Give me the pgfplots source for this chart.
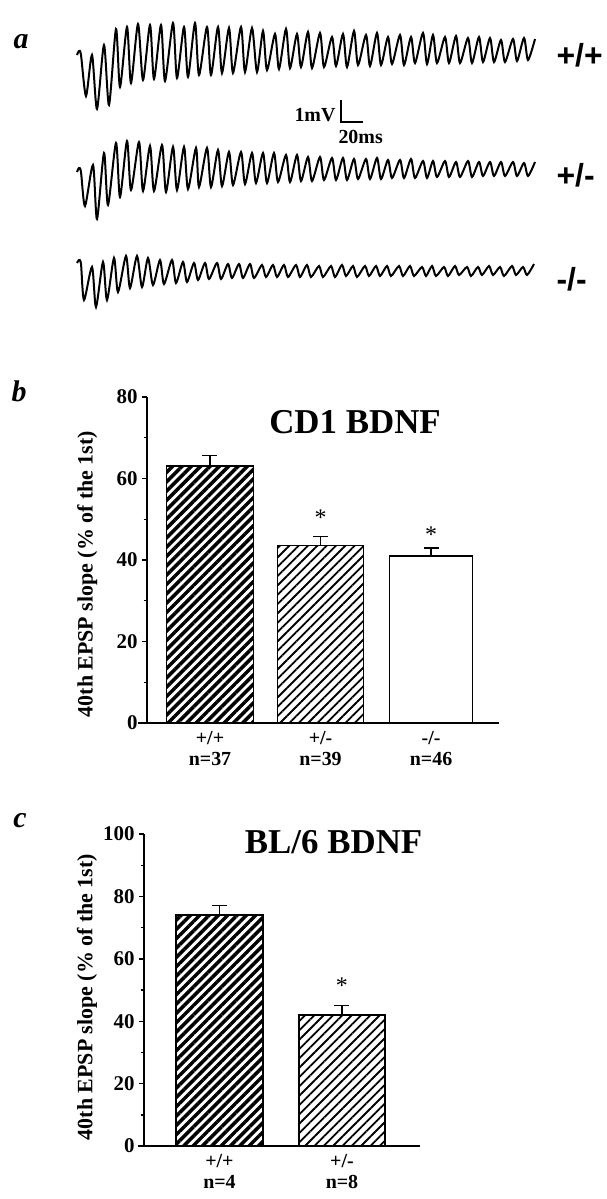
\documentclass[border=0pt]{standalone}
\usepackage{fontspec}
\setmainfont{Liberation Serif}
\newfontfamily\sansf{Liberation Sans}
\usepackage{pgfplots}
\pgfplotsset{compat=1.18}
\usetikzlibrary{patterns.meta}

\pgfplotsset{
  barpanel/.style={
    scale only axis, anchor=south west, clip=false,
    axis y line=left, axis x line*=bottom,
    axis line style={-, line width=1.6bp},
    tick align=outside,
    major tick length=5bp, minor tick length=3.5bp,
    every tick/.style={black, line width=1.4bp},
    major x tick style={draw=none},
    minor y tick num=1,
    xtick={0,1,2},
    /pgf/number format/assume math mode=true,
    yticklabel style={font=\fontsize{21}{21}\selectfont\bfseries, xshift=-1bp},
    xticklabel style={align=center, font=\fontsize{20}{21}\selectfont\bfseries},
  },
  thickhatch/.style={draw=black, line width=1.5bp, pattern={Lines[angle=45,distance=6.6bp,line width=3.5bp]}, pattern color=black},
  thinhatch/.style={draw=black, line width=1.5bp, pattern={Lines[angle=45,distance=6.6bp,line width=1.8bp]}, pattern color=black},
  errs/.style={error bars/.cd, y dir=plus, y explicit,
    error bar style={line width=1.5bp, black},
    error mark options={rotate=90, line width=1.5bp, black, mark size=7.5bp}},
}

\begin{document}
\begin{tikzpicture}
\path[use as bounding box] (0,0) rectangle (607bp,-1199bp);

% ---------- panel a : traces (canvas in pixel units) ----------
\begin{axis}[at={(0,0)}, anchor=north west, scale only axis,
  width=607bp, height=1199bp, xmin=0, xmax=607, ymin=0, ymax=1199,
  y dir=reverse, hide axis, clip=false]
\addplot[black, line width=2bp, smooth, tension=0.45] coordinates {
(77,55) (79,51) (81,55) (86,96) (92,55) (97,109) (104,45) (109,105) (116,29) (120,87) (127,27) (131,83) (138,24) (143,80) (150,25) (154,79) (161,25) (165,81) (173,23) (177,78) (184,27) (188,77) (195,23) (199,75) (207,27) (211,75) (218,27) (222,73) (229,28) (233,73) (241,27) (245,72) (252,28) (257,72) (263,31) (267,70) (275,34) (279,69) (286,29) (290,68) (297,34) (301,67) (308,32) (312,68) (320,33) (324,67) (332,37) (336,66) (343,34) (347,67) (354,31) (358,65) (366,35) (370,66) (377,33) (381,65) (388,37) (392,64) (400,35) (404,65) (411,37) (415,63) (423,33) (427,64) (433,35) (437,63) (445,37) (449,63) (456,36) (460,63) (468,38) (472,63) (479,37) (483,62) (490,38) (494,62) (501,40) (505,62) (513,39) (517,61) (524,38) (528,60) (535,39)};
\addplot[black, line width=2bp, smooth, tension=0.45] coordinates {
(77,172) (79,168) (81,172) (85,206) (93,165) (97,219) (104,153) (108,205) (116,143) (120,197) (127,141) (131,190) (139,142) (143,191) (150,146) (154,191) (162,145) (166,192) (173,147) (177,190) (184,147) (188,189) (196,148) (199,187) (207,148) (211,187) (218,150) (222,186) (229,152) (233,185) (241,152) (245,184) (252,153) (256,183) (263,153) (267,183) (274,153) (278,182) (286,155) (290,182) (297,155) (301,181) (308,157) (312,181) (320,157) (324,180) (332,158) (336,180) (343,158) (347,180) (354,159) (358,179) (366,159) (370,179) (377,158) (381,179) (388,160) (392,178) (400,160) (404,178) (411,159) (415,178) (423,161) (427,178) (433,161) (437,177) (445,161) (449,177) (456,162) (460,177) (468,161) (472,177) (479,162) (483,176) (490,162) (494,176) (501,162) (505,176) (513,162) (517,176) (524,163) (528,176) (535,162)};
\addplot[black, line width=2bp, smooth, tension=0.45] coordinates {
(77,263) (79,260) (81,264) (84,300) (92,267) (96,307) (103,262) (107,300) (114,258) (118,292) (126,256) (130,288) (137,256) (142,287) (148,258) (153,285) (160,260) (164,284) (172,260) (176,283) (183,262) (187,282) (194,263) (198,280) (205,263) (209,279) (217,263) (221,279) (228,264) (232,278) (239,264) (243,278) (250,264) (254,278) (262,265) (266,277) (273,265) (277,277) (284,265) (288,277) (296,265) (300,277) (307,265) (311,277) (319,266) (323,277) (331,266) (335,277) (342,265) (346,276) (353,266) (357,277) (365,266) (369,276) (376,266) (380,276) (387,266) (391,276) (399,266) (403,276) (410,266) (414,276) (422,267) (426,276) (432,266) (436,276) (444,267) (448,276) (455,266) (459,275) (467,267) (471,276) (478,267) (482,275) (489,266) (493,275) (500,267) (504,276) (512,266) (516,275) (523,267) (527,275) (534,264)};
% scale bar: 1 mV / 20 ms
\addplot[black, line width=1.5bp] coordinates {(341,100) (341,122) (363,122)};
\node[anchor=base east, font=\fontsize{20}{20}\selectfont\bfseries] at (axis cs:339,121) {1mV};
\node[anchor=base west, font=\fontsize{20}{20}\selectfont\bfseries] at (axis cs:335,143) {20ms};
% trace labels
\node[anchor=west, font=\sansf\bfseries\fontsize{32}{32}\selectfont] at (axis cs:553,55) {+/+};
\node[anchor=west, font=\sansf\bfseries\fontsize{32}{32}\selectfont] at (axis cs:553,175) {+/-};
\node[anchor=west, font=\sansf\bfseries\fontsize{32}{32}\selectfont] at (axis cs:553,279) {-/-};
% panel letters
\node[font=\fontsize{30}{30}\selectfont\bfseries\itshape] at (axis cs:21,42) {a};
\node[font=\fontsize{30}{30}\selectfont\bfseries\itshape] at (axis cs:19,391) {b};
\node[font=\fontsize{30}{30}\selectfont\bfseries\itshape] at (axis cs:20,821) {c};
\end{axis}

% ---------- panel b ----------
\begin{axis}[barpanel, at={(147bp,-723bp)}, width=352bp, height=326bp,
  xmin=-0.57, xmax=2.615, ymin=0, ymax=80, ytick={0,20,40,60,80},
  xticklabels={{+/+\\n=37},{+/-\\n=39},{-/-\\n=46}}]
\addplot[ybar, bar shift=0pt, bar width=87bp, thickhatch, errs] coordinates {(0,63.1) +- (0,2.6)};
\addplot[ybar, bar shift=0pt, bar width=86bp, thinhatch, errs] coordinates {(1,43.5) +- (0,2.3)};
\addplot[ybar, bar shift=0pt, bar width=83bp, draw=black, line width=1.5bp, fill=white, errs] coordinates {(2,41.0) +- (0,2.0)};
\draw[line width=1.6bp] (axis cs:-0.652,0) -- (axis cs:-0.57,0);
\node[font=\fontsize{24}{24}\selectfont] at (axis cs:1,50.5) {*};
\node[font=\fontsize{24}{24}\selectfont] at (axis cs:2,46.2) {*};
\node[font=\fontsize{35}{35}\selectfont\bfseries] at (rel axis cs:0.591,0.923) {CD1 BDNF};
\node[rotate=90, font=\fontsize{22}{22}\selectfont\bfseries] at (rel axis cs:-0.17,0.457) {40th EPSP slope (\% of the 1st)};
\end{axis}

% ---------- panel c ----------
\begin{axis}[barpanel, at={(144bp,-1146bp)}, width=276bp, height=312bp,
  xmin=-0.616, xmax=1.637, ymin=0, ymax=100, ytick={0,20,40,60,80,100},
  xticklabels={{+/+\\n=4},{+/-\\n=8}}]
\addplot[ybar, bar shift=0pt, bar width=87bp, thickhatch, errs] coordinates {(0,74.0) +- (0,3.1)};
\addplot[ybar, bar shift=0pt, bar width=86bp, thinhatch, errs] coordinates {(1,42.0) +- (0,3.0)};
\draw[line width=1.6bp] (axis cs:-0.665,0) -- (axis cs:-0.616,0);
\node[font=\fontsize{24}{24}\selectfont] at (axis cs:1,51.3) {*};
\node[font=\fontsize{35}{35}\selectfont\bfseries] at (rel axis cs:0.687,0.974) {BL/6 BDNF};
\node[rotate=90, font=\fontsize{22}{22}\selectfont\bfseries] at (rel axis cs:-0.2065,0.4776) {40th EPSP slope (\% of the 1st)};
\end{axis}
\end{tikzpicture}
\end{document}
